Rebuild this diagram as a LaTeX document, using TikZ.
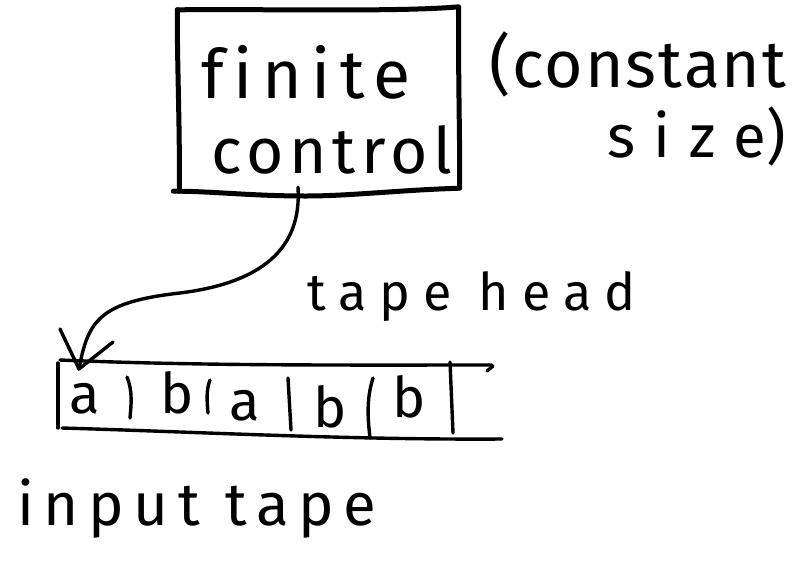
\documentclass[tikz,border=0pt]{standalone}
\usepackage{fontspec}
\newfontfamily\hand{Fira Sans}
\newcommand\hwf[2]{\hand\fontsize{#1}{#1}\selectfont\addfontfeature{LetterSpace=#2,Ligatures=NoCommon}}
\begin{document}
\begin{tikzpicture}[x=1pt,y=-1pt, line cap=round, line join=round,
  ink/.style={line width=3.4pt, black},
  boxink/.style={line width=5pt, black},
  txt/.style={inner sep=0pt, anchor=base west},
  cell/.style={inner sep=0pt, anchor=base, font=\hwf{56}{0}},
]
\useasboundingbox (0,0) rectangle (799,568);
% finite control box (hand-drawn outline around the node)
\node[minimum width=281pt, minimum height=181pt, inner sep=0pt] (fc) at (318,100.5) {};
\draw[boxink] (fc.north west) .. controls (280,9) and (400,12) .. ([yshift=3pt]fc.north east)
  .. controls (458,70) and (460,140) .. ([shift={(1,-3)}]fc.south east)
  .. controls (400,190) and (350,196) .. (306,196)
  .. controls (250,196) and (210,191) .. ([xshift=-4pt]fc.south west);
\draw[boxink] ([xshift=2pt]fc.south west) .. controls (180,130) and (177,60) .. (fc.north west);
\node[txt, font=\hwf{68}{14}] (finite) at (201,98) {finite};
\node[txt, font=\hwf{64}{9}] (control) at (211,173) {control};
\node[txt, font=\hwf{66}{3}] (constant) at (489,87) {(constant};
\node[txt, font=\hwf{60}{31}] (size) at (607,157) {size\hwf{60}{0})};
\node[txt, font=\hwf{52}{25}] (tapehead) at (307,310) {tape head};
\node[txt, font=\hwf{60}{16}] (inputtape) at (17,525) {input tape};
% tape
\draw[ink] (60,360) .. controls (200,366) and (350,365) .. (492,365);
\draw[ink] (487,371) -- (493,366);
\draw[ink] (62,428) .. controls (200,432) and (350,440) .. (502,439);
\draw[ink] (58,363) -- (58,428);
\draw[ink] (127,377) .. controls (133,392) and (131,405) .. (130,418);
\draw[ink] (210,380) .. controls (206,390) and (207,402) .. (208,413);
\draw[ink] (288,378) -- (291,430);
\draw[ink] (373,378) .. controls (366,400) and (368,420) .. (370,438);
\draw[ink] (450,362) -- (453,433);
\node[cell] (c1) at (85,413) {a};
\node[cell] (c2) at (177,413) {b};
\node[cell] (c3) at (245,420) {a};
\node[cell] (c4) at (330,427) {b};
\node[cell] (c5) at (409,417) {b};
% tape head arrow
\coordinate (head) at (79,369);
\draw[ink] ([xshift=-20pt,yshift=4pt]fc.south) .. controls (302,250) and (260,283) .. (180,293) .. controls (100,302) and (88,320) .. (head);
\draw[ink] ([shift={(-19,-40)}]head) -- (head) -- ([shift={(34,-27)}]head);
\end{tikzpicture}
\end{document}
